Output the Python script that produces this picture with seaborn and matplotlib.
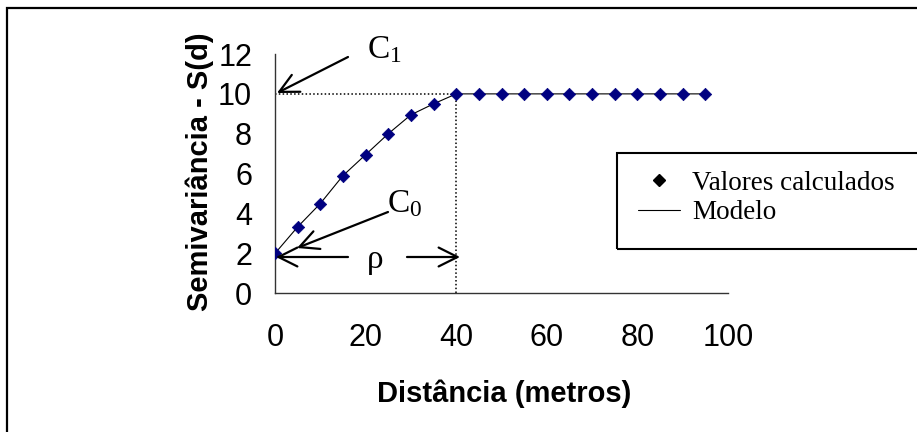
import numpy as np
import pandas as pd
import matplotlib
matplotlib.use("Agg")
import matplotlib.pyplot as plt
import seaborn as sns
from matplotlib.lines import Line2D
from matplotlib.patches import Rectangle
from matplotlib.legend_handler import HandlerLine2D

# ---- data ----
distancia = [0, 5, 10, 15, 20, 25, 30, 35, 40, 45, 50, 55, 60, 65, 70, 75, 80, 85, 90, 95]
semivariancia = [2.0, 3.33, 4.5, 5.9, 6.95, 8.0, 8.95, 9.5, 10.0, 10.0, 10.0, 10.0,
                 10.0, 10.0, 10.0, 10.0, 10.0, 10.0, 10.0, 10.0]
x_ticks = [0, 20, 40, 60, 80, 100]
y_ticks = [0, 2, 4, 6, 8, 10, 12]
pepita = 2.0      # C0
patamar = 10.0    # C1 (sill)
alcance = 40.0    # rho (range)
series_labels = ["Valores calculados", "Modelo"]

df = pd.DataFrame({"d": distancia, "s": semivariancia})

sns.set_style("white")
plt.rcParams["font.family"] = ["Liberation Sans", "DejaVu Sans"]
plt.rcParams["text.color"] = "black"
plt.rcParams["axes.labelcolor"] = "black"
plt.rcParams["mathtext.fontset"] = "custom"
plt.rcParams["mathtext.rm"] = "Liberation Serif"
plt.rcParams["mathtext.it"] = "Liberation Serif:italic"

W, H = 917, 432
fig = plt.figure(figsize=(W / 100, H / 100), dpi=100)
x0, x1 = 275, 728
y0, y1 = 293.3, 54
ax = fig.add_axes([x0 / W, 1 - y0 / H, (x1 - x0) / W, (y0 - y1) / H])

# model line and computed points
sns.lineplot(data=df, x="d", y="s", ax=ax, color="black", linewidth=0.8, zorder=2)
sns.scatterplot(data=df, x="d", y="s", ax=ax, marker="D", s=40, color="#000080",
                edgecolor="#000080", linewidth=0.5, zorder=3)

# dotted reference lines
ax.plot([0, alcance], [patamar, patamar], linestyle=(0, (1, 1.5)), color="black", lw=1.1, zorder=1)
ax.plot([alcance, alcance], [0, patamar], linestyle=(0, (1, 1.5)), color="black", lw=1.1, zorder=1)

ax.set_xlim(0, 100)
ax.set_ylim(0, 12)
ax.set_xticks(x_ticks)
ax.set_yticks(y_ticks)
ax.set_xticklabels([str(t) for t in x_ticks])
ax.set_yticklabels([str(t) for t in y_ticks])
for s in ["top", "right"]:
    ax.spines[s].set_visible(False)
for s in ["left", "bottom"]:
    ax.spines[s].set_color("#333333")
    ax.spines[s].set_linewidth(1.0)
ax.tick_params(axis="both", direction="out", length=6.5, width=1.0, color="#333333",
               labelsize=22, labelcolor="black")
ax.tick_params(axis="x", pad=15)
ax.tick_params(axis="y", pad=10)
ax.margins(0)

ax.set_xlabel("Distância (metros)", fontsize=21, fontweight="bold", color="black")
ax.set_ylabel("Semivariância - S(d)", fontsize=21, fontweight="bold", color="black")
ax.xaxis.set_label_coords(0.505, -0.36)
ax.yaxis.set_label_coords(-0.135, 0.51)

# annotations (arrows + labels)
def px2d(px, py):
    return ((px - x0) / (x1 - x0) * 100, (y0 - py) / (y0 - y1) * 12)

arrow_kw = dict(arrowstyle="->", color="black", lw=1.6, mutation_scale=34, shrinkA=0, shrinkB=0)
ax.annotate("", xy=px2d(277, 93), xytext=px2d(348, 57), arrowprops=arrow_kw, annotation_clip=False)
ax.annotate("", xy=px2d(297, 248), xytext=px2d(388, 212), arrowprops=arrow_kw, annotation_clip=False)
ax.annotate("", xy=px2d(276, 257), xytext=px2d(348, 257), arrowprops=arrow_kw, annotation_clip=False)
ax.annotate("", xy=px2d(460, 257), xytext=px2d(407, 257), arrowprops=arrow_kw, annotation_clip=False)

serif = ["Liberation Serif", "DejaVu Serif"]
tx, ty = px2d(367, 58)
ax.text(tx, ty, r"$\mathrm{C}_{\mathrm{1}}$", fontsize=24, ha="left", va="baseline", clip_on=False)
tx, ty = px2d(387, 212)
ax.text(tx, ty, r"$\mathrm{C}_{\mathrm{0}}$", fontsize=24, ha="left", va="baseline", clip_on=False)
tx, ty = px2d(375, 268)
ax.text(tx, ty, "ρ", fontsize=24, family=serif, ha="center", va="baseline", clip_on=False)

# legend frame (clipped by figure edge like the reference)
fig.patches.append(Rectangle((617 / W, 1 - 249 / H), 0.4, 96 / H, transform=fig.transFigure,
                             fill=False, edgecolor="black", linewidth=1.5))


class RightMarker(HandlerLine2D):
    def get_xdata(self, legend, xdescent, ydescent, width, height, fontsize):
        xd, _ = super().get_xdata(legend, xdescent, ydescent, width, height, fontsize)
        return xd, np.array([-xdescent + 0.83 * width])


h1 = Line2D([], [], marker="D", color="black", linestyle="None", markersize=6.5)
h2 = Line2D([], [], color="black", lw=0.8)
leg = fig.legend([h1, h2], series_labels, loc="center left",
                 bbox_to_anchor=(638 / W, 1 - 198 / H), frameon=False,
                 prop={"family": serif, "size": 19.5}, handlelength=1.55,
                 handletextpad=0.45, labelspacing=0.15, borderpad=0, borderaxespad=0,
                 handler_map={h1: RightMarker(numpoints=1)})

# figure border (top and left visible, others run off the picture)
fig.patches.append(Rectangle((7 / W, -0.1), 1.2, 1 - 8 / H + 0.1, transform=fig.transFigure,
                             fill=False, edgecolor="black", linewidth=1.6))

fig.savefig("out.png", dpi=100)
